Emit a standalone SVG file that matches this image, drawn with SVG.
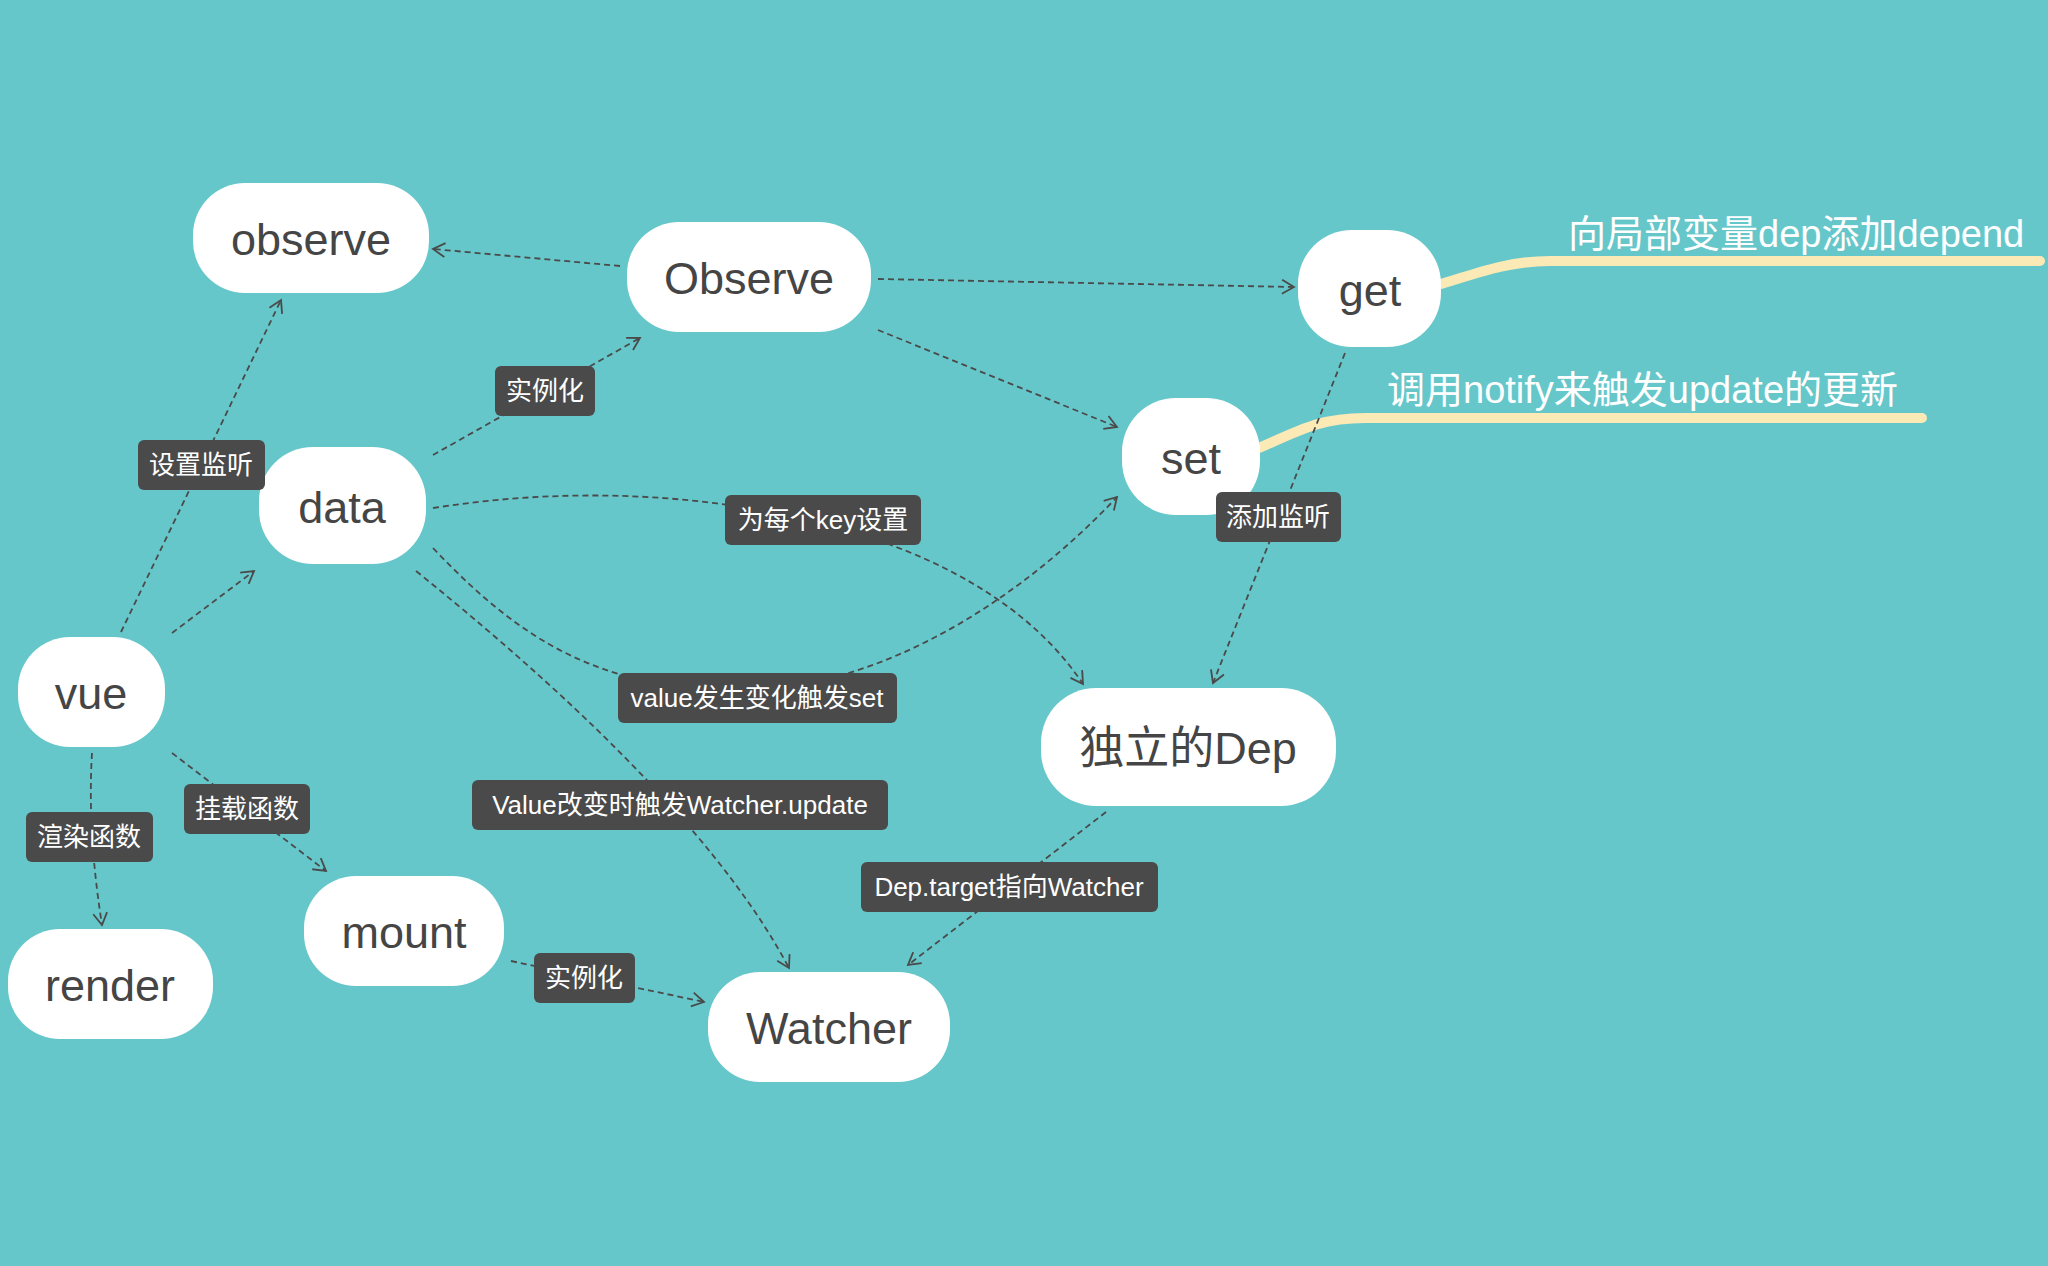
<svg xmlns="http://www.w3.org/2000/svg" width="2048" height="1266" viewBox="0 0 2048 1266">
<style>
.bg{fill:#66c7ca}
.node rect{fill:#ffffff}
.node text{font-family:"Liberation Sans","Noto Sans CJK SC",sans-serif;font-size:45px;fill:#454545;text-anchor:middle}
.c{fill:none;stroke:#4a4a4a;stroke-width:1.8;stroke-dasharray:6 4}
.lbl rect{fill:#4a4a4a}
.lbl text{font-family:"Liberation Sans","Noto Sans CJK SC",sans-serif;font-size:26px;fill:#ffffff;text-anchor:middle}
.hl{fill:none;stroke:#fbe9b6;stroke-width:10;stroke-linecap:round}
.note{font-family:"Liberation Sans","Noto Sans CJK SC",sans-serif;font-size:38px;fill:#ffffff}
</style>
<defs>
<marker id="arr" viewBox="-14 -9 16 18" refX="0" refY="0" markerWidth="16" markerHeight="18" markerUnits="userSpaceOnUse" orient="auto">
<path d="M-12,-7 L0,0 L-12,7" fill="none" stroke="#4a4a4a" stroke-width="1.8"/>
</marker>
</defs>
<rect class="bg" x="0" y="0" width="2048" height="1266"/>

<g id="highlights">
<path class="hl" d="M1441 284 C1480 272 1510 261 1550 261 L2040 261"/>
<path class="hl" d="M1259 448 C1300 430 1320 418 1365 418 L1922 418"/>
</g>

<g id="connectors">
<path class="c" marker-end="url(#arr)" d="M620 266 L433 249"/>
<path class="c" marker-end="url(#arr)" d="M878 279 L1294 287"/>
<path class="c" marker-end="url(#arr)" d="M878 330 L1117 427"/>
<path class="c" marker-end="url(#arr)" d="M433 455 L640 338"/>
<path class="c" marker-end="url(#arr)" d="M121 632 L281 300"/>
<path class="c" marker-end="url(#arr)" d="M172 633 L254 571"/>
<path class="c" marker-end="url(#arr)" d="M433 508 Q600 482 760 510 C900 535 1020 590 1083 684"/>
<path class="c" marker-end="url(#arr)" d="M433 548 C520 640 600 690 740 690 C880 690 1020 600 1117 497"/>
<path class="c" marker-end="url(#arr)" d="M416 571 Q700 800 789 968"/>
<path class="c" marker-end="url(#arr)" d="M92 753 C88 820 95 880 102 925"/>
<path class="c" marker-end="url(#arr)" d="M172 753 L326 871"/>
<path class="c" marker-end="url(#arr)" d="M511 961 L704 1002"/>
<path class="c" marker-end="url(#arr)" d="M1106 812 L908 965"/>
<path class="c" marker-end="url(#arr)" d="M1345 353 L1213 683"/>
</g>

<g id="node-observe-lower" class="node"><rect x="193" y="183" width="236" height="110" rx="52"/><text x="311" y="255">observe</text></g>
<g id="node-Observe" class="node"><rect x="627" y="222" width="244" height="110" rx="52"/><text x="749" y="294">Observe</text></g>
<g id="node-get" class="node"><rect x="1298" y="230" width="143" height="117" rx="54"/><text x="1370" y="306">get</text></g>
<g id="node-set" class="node"><rect x="1122" y="398" width="138" height="117" rx="54"/><text x="1191" y="474">set</text></g>
<g id="node-data" class="node"><rect x="259" y="447" width="167" height="117" rx="54"/><text x="342" y="523">data</text></g>
<g id="node-vue" class="node"><rect x="18" y="637" width="147" height="110" rx="52"/><text x="91" y="709">vue</text></g>
<g id="node-render" class="node"><rect x="8" y="929" width="205" height="110" rx="52"/><text x="110" y="1001">render</text></g>
<g id="node-mount" class="node"><rect x="304" y="876" width="200" height="110" rx="52"/><text x="404" y="948">mount</text></g>
<g id="node-Watcher" class="node"><rect x="708" y="972" width="242" height="110" rx="52"/><text x="829" y="1044">Watcher</text></g>
<g id="node-Dep" class="node"><rect x="1041" y="688" width="295" height="118" rx="55"/><text x="1188" y="764">独立的Dep</text></g>

<g id="edge-labels">
<g class="lbl"><rect x="495" y="366" width="100" height="50" rx="6"/><text x="545" y="400">实例化</text></g>
<g class="lbl"><rect x="138" y="440" width="127" height="50" rx="6"/><text x="201" y="474">设置监听</text></g>
<g class="lbl"><rect x="725" y="495" width="196" height="50" rx="6"/><text x="823" y="529">为每个key设置</text></g>
<g class="lbl"><rect x="1216" y="492" width="125" height="50" rx="6"/><text x="1278" y="526">添加监听</text></g>
<g class="lbl"><rect x="618" y="673" width="279" height="50" rx="6"/><text x="757" y="707">value发生变化触发set</text></g>
<g class="lbl"><rect x="472" y="780" width="416" height="50" rx="6"/><text x="680" y="814">Value改变时触发Watcher.update</text></g>
<g class="lbl"><rect x="861" y="862" width="297" height="50" rx="6"/><text x="1009" y="896">Dep.target指向Watcher</text></g>
<g class="lbl"><rect x="184" y="784" width="126" height="50" rx="6"/><text x="247" y="818">挂载函数</text></g>
<g class="lbl"><rect x="26" y="812" width="127" height="50" rx="6"/><text x="89" y="846">渲染函数</text></g>
<g class="lbl"><rect x="534" y="953" width="101" height="50" rx="6"/><text x="584" y="987">实例化</text></g>
</g>

<g id="notes">
<text class="note" x="1568" y="247">向局部变量dep添加depend</text>
<text class="note" x="1387" y="403">调用notify来触发update的更新</text>
</g>
</svg>
